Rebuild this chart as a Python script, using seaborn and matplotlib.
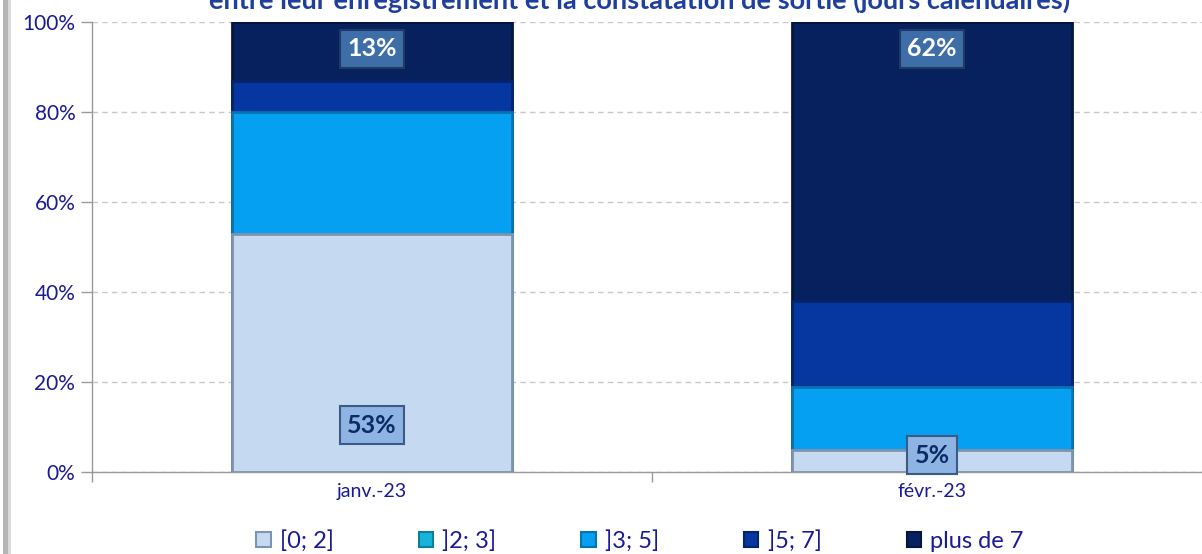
"""
Stacked 100% bars: délai entre enregistrement et constatation de sortie
"""

import numpy as np
import pandas as pd
import matplotlib
matplotlib.use("Agg")
import matplotlib.pyplot as plt
from matplotlib.patches import Patch, Rectangle
import seaborn as sns

# data (percent of items per delay bucket)
months = ['janv.-23', 'févr.-23']
buckets = ['[0; 2]', ']2; 3]', ']3; 5]', ']5; 7]', 'plus de 7']
pct_0_2 = [53, 5]
pct_2_3 = [0, 0]
pct_3_5 = [27, 14]
pct_5_7 = [7, 19]
pct_plus_7 = [13, 62]

colors = ['#C5D9F1', '#17B3D9', '#05A0F2', '#0636A0', '#07215E']
edges = ['#7F93B0', '#0E7F9A', '#0674AE', '#04246C', '#041640']

title_color = '#1F3F9F'
text_color = '#1A1A99'

sns.set_theme(style='white')
plt.rcParams['font.family'] = ['Lato', 'DejaVu Sans']

series = [pct_0_2, pct_2_3, pct_3_5, pct_5_7, pct_plus_7]
cum = np.cumsum(np.array(series, dtype=float), axis=0)

fig = plt.figure(figsize=(12.02, 5.54), dpi=100)
ax = fig.add_axes([92 / 1202, 82 / 554, 1120 / 1202, 450 / 554])

# draw cumulative totals from top to bottom so each segment shows
for i in reversed(range(len(buckets))):
    df = pd.DataFrame({'month': months, 'value': cum[i]})
    sns.barplot(data=df, x='month', y='value', order=months, color=colors[i],
                width=0.5, edgecolor=edges[i], linewidth=2, saturation=1,
                ax=ax, zorder=3)

ax.set_xlim(-0.5, 1.5)
ax.set_ylim(0, 100)
ax.set_yticks(np.arange(0, 101, 20))
ax.set_yticklabels([f'{v}%' for v in range(0, 101, 20)])
ax.set_xticks([0, 1])
ax.set_xticklabels(months)
ax.set_xticks([-0.5, 0.5, 1.5], minor=True)
ax.tick_params(axis='x', which='major', length=0, labelsize=14,
               labelcolor=text_color, pad=8)
ax.tick_params(axis='x', which='minor', length=7, color='#9A9A9A', width=1,
               direction='out', bottom=True)
ax.tick_params(axis='y', length=8, color='#9A9A9A', width=1, direction='out',
               left=True, labelsize=15, labelcolor=text_color, pad=4)
ax.set_xlabel('')
ax.set_ylabel('')
ax.yaxis.grid(True, linestyle=(0, (4, 3)), color='#C8C8C8', linewidth=1, zorder=0)
for side in ['top', 'right']:
    ax.spines[side].set_visible(False)
for side in ['left', 'bottom']:
    ax.spines[side].set_color('#9A9A9A')
    ax.spines[side].set_linewidth(1)

# value labels for the first and last bucket
for j, m in enumerate(months):
    v = pct_0_2[j]
    ax.text(j, min(v * 0.75, 10.4), f'{v}%', ha='center', va='center',
            fontsize=18, fontweight='bold', color='#0B2A66', zorder=5,
            bbox=dict(boxstyle='square,pad=0.3', facecolor='#8DB4E2',
                      edgecolor='#3B5A85', linewidth=1.5))
    v = pct_plus_7[j]
    ax.text(j, 94, f'{v}%', ha='center', va='center',
            fontsize=18, fontweight='bold', color='white', zorder=5,
            bbox=dict(boxstyle='square,pad=0.3', facecolor='#3D6EA8',
                      edgecolor='#1F3A66', linewidth=1.5))

handles = [Patch(facecolor=c, edgecolor=e, linewidth=1.5) for c, e in zip(colors, edges)]
fig.legend(handles, buckets, loc='center', bbox_to_anchor=(640 / 1202, 1 - 541 / 554),
           ncol=5, frameon=False, fontsize=17, handlelength=0.6, handleheight=0.6,
           handletextpad=0.4, columnspacing=3.6, labelcolor=text_color)

# title (first line is outside the visible canvas)
fig.text(640 / 1202, 1 - 9 / 554,
         'entre leur enregistrement et la constatation de sortie (jours calendaires)',
         ha='center', va='baseline', fontsize=19.5, fontweight='bold', color=title_color)

# left frame strip
fig.patches.append(Rectangle((3 / 1202, 0), 8 / 1202, 1, transform=fig.transFigure,
                             facecolor='#B4B4B4', edgecolor='none', zorder=0))
fig.patches.append(Rectangle((8 / 1202, 0), 3 / 1202, 1, transform=fig.transFigure,
                             facecolor='#DADADA', edgecolor='none', zorder=0))

fig.savefig('out.png', dpi=100)
plt.close(fig)
